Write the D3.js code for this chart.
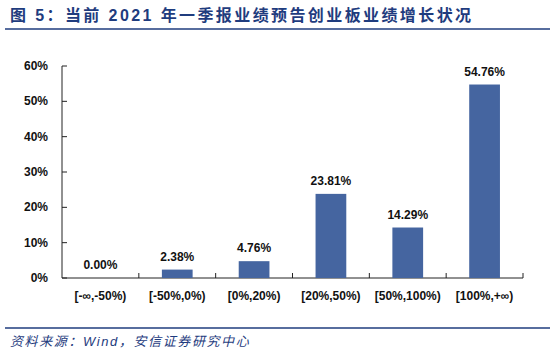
<!DOCTYPE html>
<html>
<head>
<meta charset="utf-8">
<script src="https://cdn.jsdelivr.net/npm/d3@7"></script>
<style>
	body { margin: 0; background: #fff; }
	svg text { font-family: "Liberation Sans", Arial, "Noto Sans CJK SC", sans-serif; }
</style>
</head>
<body>
<div id="chart"></div>
<script>
// Data
var categories = ['[-∞,-50%)', '[-50%,0%)', '[0%,20%)', '[20%,50%)', '[50%,100%)', '[100%,+∞)'];
var values = [0.00, 2.38, 4.76, 23.81, 14.29, 54.76];
var yTicks = [0, 10, 20, 30, 40, 50, 60];

var titleText = '图 5：当前 2021 年一季报业绩预告创业板业绩增长状况';
var sourceText = '资料来源：Wind，安信证券研究中心';

var width = 550;
var height = 354;
var blue = '#1f3c7e';
var barColor = '#4565a0';

var margins = { top: 66, right: 27, bottom: 76, left: 62 };
var chartWidth = width - margins.left - margins.right;
var chartHeight = height - margins.top - margins.bottom;

var svg = d3.select('#chart')
	.append('svg')
	.attr('width', width)
	.attr('height', height);

// Title
svg.append('text')
	.attr('x', 10)
	.attr('y', 21)
	.attr('fill', blue)
	.attr('font-size', 16)
	.attr('font-weight', 'bold')
	.style('letter-spacing', '2.4px')
	.style('font-family', '"Liberation Sans", "Noto Sans CJK SC", sans-serif')
	.text(titleText);

svg.append('line')
	.attr('x1', 5).attr('x2', width)
	.attr('y1', 29).attr('y2', 29)
	.attr('stroke', blue)
	.attr('stroke-width', 1.5);

svg.append('line')
	.attr('x1', 5).attr('x2', width)
	.attr('y1', 328).attr('y2', 328)
	.attr('stroke', blue)
	.attr('stroke-width', 1.5);

svg.append('text')
	.attr('x', 10)
	.attr('y', 346)
	.attr('fill', blue)
	.attr('font-size', 13)
	.attr('font-style', 'italic')
	.style('letter-spacing', '1.6px')
	.style('font-family', '"Liberation Sans", "Noto Sans CJK SC", sans-serif')
	.text(sourceText);

var chartElement = svg.append('g')
	.attr('transform', 'translate(' + margins.left + ',' + margins.top + ')');

var xScale = d3.scaleBand()
	.domain(categories)
	.range([0, chartWidth])
	.paddingInner(0.6)
	.paddingOuter(0.3);

var xEdges = d3.scaleLinear()
	.domain([0, categories.length])
	.range([0, chartWidth]);

var yScale = d3.scaleLinear()
	.domain([0, 60])
	.range([chartHeight, 0]);

// Y axis
var yAxis = chartElement.append('g')
	.attr('class', 'y axis');

yAxis.append('line')
	.attr('x1', 0).attr('x2', 0)
	.attr('y1', 0).attr('y2', chartHeight)
	.attr('stroke', '#222');

yAxis.selectAll('line.tick')
	.data(yTicks)
	.enter()
	.append('line')
	.attr('class', 'tick')
	.attr('x1', 0).attr('x2', 5)
	.attr('y1', function(d) { return yScale(d); })
	.attr('y2', function(d) { return yScale(d); })
	.attr('stroke', '#222');

yAxis.selectAll('text')
	.data(yTicks)
	.enter()
	.append('text')
	.attr('x', -14)
	.attr('y', function(d) { return yScale(d) + 4; })
	.attr('text-anchor', 'end')
	.attr('font-size', 12)
	.attr('font-weight', 'bold')
	.attr('fill', '#111')
	.text(function(d) { return d + '%'; });

// X axis
var xAxis = chartElement.append('g')
	.attr('class', 'x axis')
	.attr('transform', 'translate(0,' + chartHeight + ')');

xAxis.append('line')
	.attr('x1', 0).attr('x2', chartWidth)
	.attr('y1', 0).attr('y2', 0)
	.attr('stroke', '#222');

xAxis.selectAll('line.tick')
	.data(d3.range(1, categories.length + 1))
	.enter()
	.append('line')
	.attr('class', 'tick')
	.attr('x1', function(d) { return xEdges(d); })
	.attr('x2', function(d) { return xEdges(d); })
	.attr('y1', 0).attr('y2', -5)
	.attr('stroke', '#222');

xAxis.selectAll('text')
	.data(categories)
	.enter()
	.append('text')
	.attr('x', function(d) { return xScale(d) + xScale.bandwidth() / 2; })
	.attr('y', 22)
	.attr('text-anchor', 'middle')
	.attr('font-size', 12)
	.attr('font-weight', 'bold')
	.attr('fill', '#111')
	.text(function(d) { return d; });

// Bars
chartElement.append('g')
	.attr('class', 'bars')
	.selectAll('rect')
	.data(values)
	.enter()
	.append('rect')
	.attr('x', function(d, i) { return xScale(categories[i]); })
	.attr('width', xScale.bandwidth())
	.attr('y', function(d) { return yScale(d); })
	.attr('height', function(d) { return chartHeight - yScale(d); })
	.attr('fill', barColor);

// Value labels
chartElement.append('g')
	.attr('class', 'value')
	.selectAll('text')
	.data(values)
	.enter()
	.append('text')
	.attr('x', function(d, i) { return xScale(categories[i]) + xScale.bandwidth() / 2; })
	.attr('y', function(d) { return yScale(d) - 9; })
	.attr('text-anchor', 'middle')
	.attr('font-size', 12)
	.attr('font-weight', 'bold')
	.attr('fill', '#111')
	.text(function(d) { return d.toFixed(2) + '%'; });
</script>
</body>
</html>
